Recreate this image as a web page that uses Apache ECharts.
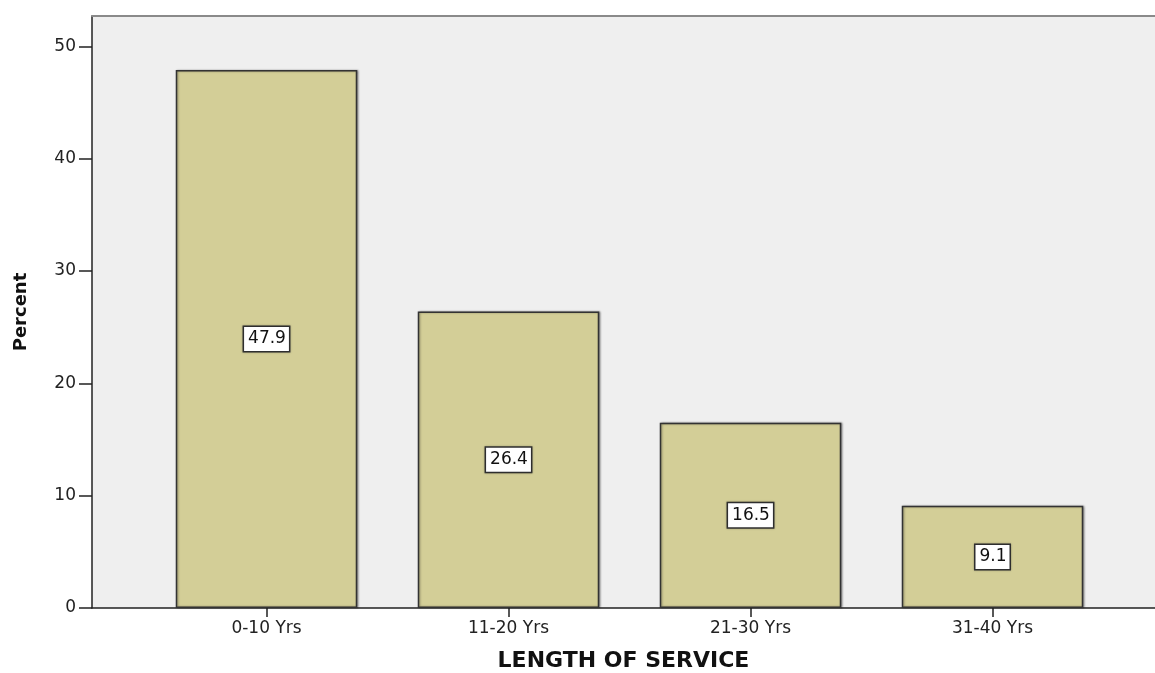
<!DOCTYPE html>
<html>
<head>
<meta charset="utf-8">
<script src="https://cdn.jsdelivr.net/npm/echarts@6/dist/echarts.min.js"></script>
<style>
  html, body { margin: 0; padding: 0; background: #fff; }
  #chart { width: 1155px; height: 673px; }
</style>
</head>
<body>
<div id="chart"></div>
<script>
// data
const categories = ['0-10 Yrs', '11-20 Yrs', '21-30 Yrs', '31-40 Yrs']
const percents = [47.9, 26.4, 16.5, 9.1]
const yTicks = [0, 10, 20, 30, 40, 50]

const font = 'DejaVu Sans'
const yMax = 52.7

const chart = echarts.init(document.getElementById('chart'))

chart.setOption({
  animation: false,
  // grid 0: the frame, background and y axis; grid 1: the bars
  grid: [
    { left: 92, right: 0, top: 16, bottom: 65, outerBoundsMode: 'none', containLabel: false,
      show: true, backgroundColor: '#efefef', borderWidth: 0 },
    { left: 145.5, width: 968, top: 16, bottom: 65, outerBoundsMode: 'none', containLabel: false }
  ],
  xAxis: [
    {
      gridIndex: 0, type: 'value', min: 0, max: 1, position: 'bottom',
      axisLine: { show: true, lineStyle: { color: '#222', width: 1.5 } },
      axisTick: { show: false }, axisLabel: { show: false }, splitLine: { show: false },
      name: 'LENGTH OF SERVICE', nameLocation: 'middle', nameGap: 42,
      nameTextStyle: { fontFamily: font, fontWeight: 'bold', fontSize: 22, color: '#111' }
    },
    {
      gridIndex: 0, type: 'value', min: 0, max: 1, position: 'top',
      axisLine: { show: true, lineStyle: { color: '#8a8a8a', width: 2 } },
      axisTick: { show: false }, axisLabel: { show: false }, splitLine: { show: false }
    },
    {
      gridIndex: 1, type: 'category', data: categories,
      axisLine: { show: false },
      axisTick: { show: true, alignWithLabel: true, length: 9, lineStyle: { color: '#222', width: 1.5 } },
      axisLabel: { fontFamily: font, fontSize: 17, color: '#222', margin: 12 }
    }
  ],
  yAxis: [
    {
      gridIndex: 0, type: 'value', min: 0, max: yMax, interval: 10,
      axisLine: { show: true, lineStyle: { color: '#222', width: 1.5 } },
      axisTick: { show: true, length: 13, customValues: yTicks, lineStyle: { color: '#222', width: 1.5 } },
      axisLabel: { customValues: yTicks, fontFamily: font, fontSize: 17, color: '#222', margin: 16 },
      splitLine: { show: false },
      name: 'Percent', nameLocation: 'middle', nameGap: 62,
      nameTextStyle: { fontFamily: font, fontWeight: 'bold', fontSize: 18, color: '#111' }
    },
    { gridIndex: 1, type: 'value', min: 0, max: yMax, show: false }
  ],
  series: [
    {
      type: 'bar',
      xAxisIndex: 2,
      yAxisIndex: 1,
      data: percents,
      barWidth: '75%',
      itemStyle: {
        color: '#d3ce97',
        borderColor: '#333',
        borderWidth: 1.5,
        shadowColor: 'rgba(0,0,0,0.35)',
        shadowBlur: 2,
        shadowOffsetX: 1,
        shadowOffsetY: 0
      },
      label: {
        show: true,
        position: 'inside',
        fontFamily: font,
        fontSize: 17,
        color: '#111',
        backgroundColor: '#fff',
        borderColor: '#333',
        borderWidth: 1.5,
        padding: [4, 3, 3, 4],
        shadowColor: 'rgba(0,0,0,0.3)',
        shadowBlur: 2,
        formatter: p => p.value.toFixed(1)
      }
    }
  ]
})
</script>
</body>
</html>
